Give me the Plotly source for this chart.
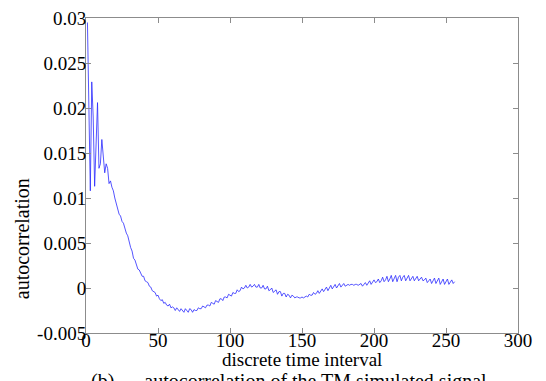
import plotly.graph_objects as go

# lag index (discrete time interval)
lags = list(range(1, 257))

# autocorrelation values, lag 1..256
autocorr = [
    0.0295, 0.0190, 0.0108, 0.0229, 0.0190, 0.0113, 0.0170, 0.0206, 0.0133, 0.0138,
    0.0165, 0.0142, 0.0128, 0.0138, 0.0133, 0.0116, 0.0119, 0.0112, 0.0108, 0.0100,
    0.0094, 0.0087, 0.0082, 0.0080, 0.0074, 0.0072, 0.0066, 0.0061, 0.0058, 0.0051,
    0.0045, 0.0041, 0.0033, 0.0031, 0.0027, 0.0021, 0.0020, 0.0016, 0.0013, 0.0013,
    0.0008, 0.0007, 0.0006, 0.0002, 0.0001, -0.0003, -0.0004, -0.0005, -0.0009, -0.0008,
    -0.0012, -0.0014, -0.0013, -0.0017, -0.0016, -0.0019, -0.0020, -0.0018, -0.0022, -0.0021,
    -0.0022, -0.0025, -0.0022, -0.0024, -0.0026, -0.0023, -0.0025, -0.0027, -0.0023, -0.0025,
    -0.0027, -0.0023, -0.0024, -0.0027, -0.0024, -0.0025, -0.0025, -0.0022, -0.0023, -0.0023,
    -0.0020, -0.0021, -0.0022, -0.0019, -0.0019, -0.0020, -0.0016, -0.0017, -0.0018, -0.0014,
    -0.0015, -0.0016, -0.0012, -0.0012, -0.0014, -0.0010, -0.0010, -0.0011, -0.0007, -0.0008,
    -0.0009, -0.0005, -0.0006, -0.0006, -0.0002, -0.0004, -0.0003, 0.0001, -0.0001, 0.0000,
    0.0003, 0.0000, 0.0001, 0.0004, 0.0001, 0.0002, 0.0004, 0.0001, 0.0001, 0.0004,
    0.0000, 0.0000, 0.0003, -0.0001, -0.0001, 0.0002, -0.0003, -0.0002, 0.0000, -0.0005,
    -0.0003, -0.0002, -0.0007, -0.0004, -0.0004, -0.0009, -0.0006, -0.0006, -0.0010, -0.0007,
    -0.0008, -0.0011, -0.0008, -0.0009, -0.0011, -0.0010, -0.0010, -0.0011, -0.0011, -0.0010,
    -0.0011, -0.0010, -0.0009, -0.0010, -0.0007, -0.0008, -0.0008, -0.0005, -0.0007, -0.0006,
    -0.0003, -0.0006, -0.0004, -0.0001, -0.0004, -0.0002, 0.0001, -0.0003, 0.0000, 0.0003,
    -0.0001, 0.0001, 0.0004, 0.0000, 0.0002, 0.0005, 0.0001, 0.0003, 0.0005, 0.0002,
    0.0003, 0.0004, 0.0003, 0.0004, 0.0004, 0.0003, 0.0004, 0.0004, 0.0003, 0.0004,
    0.0005, 0.0002, 0.0004, 0.0006, 0.0003, 0.0005, 0.0008, 0.0004, 0.0006, 0.0009,
    0.0006, 0.0007, 0.0010, 0.0006, 0.0008, 0.0012, 0.0007, 0.0009, 0.0013, 0.0007,
    0.0010, 0.0014, 0.0007, 0.0011, 0.0014, 0.0007, 0.0012, 0.0014, 0.0008, 0.0012,
    0.0014, 0.0008, 0.0011, 0.0014, 0.0008, 0.0011, 0.0013, 0.0008, 0.0011, 0.0013,
    0.0008, 0.0010, 0.0012, 0.0008, 0.0009, 0.0011, 0.0006, 0.0008, 0.0010, 0.0005,
    0.0008, 0.0011, 0.0005, 0.0009, 0.0011, 0.0004, 0.0008, 0.0010, 0.0004, 0.0008,
    0.0010, 0.0004, 0.0007, 0.0009, 0.0005, 0.0007,
]

x_ticks = [0, 50, 100, 150, 200, 250, 300]
y_ticks = [-0.005, 0, 0.005, 0.01, 0.015, 0.02, 0.025, 0.03]
y_tick_text = ["-0.005", "0", "0.005", "0.01", "0.015", "0.02", "0.025", "0.03"]

FONT = "Liberation Serif"

fig = go.Figure()
fig.add_trace(go.Scatter(
    x=lags, y=autocorr, mode="lines",
    line=dict(color="#2a2aff", width=0.8),
    showlegend=False, hoverinfo="skip",
))

axis_common = dict(
    showline=True, linecolor="#8c8c8c", linewidth=1, mirror="ticks",
    ticks="inside", ticklen=5, tickcolor="#8c8c8c", tickwidth=1,
    showgrid=False, zeroline=False, ticklabeloverflow="allow",
    tickfont=dict(family=FONT, size=19, color="black"),
)

fig.update_layout(
    width=546, height=381,
    margin=dict(l=86, r=28, t=8, b=48),
    paper_bgcolor="white", plot_bgcolor="white",
    font=dict(family=FONT, size=19, color="black"),
    xaxis=dict(range=[0, 300], tickvals=x_ticks, ticklabelstandoff=-10,
               **axis_common),
    yaxis=dict(range=[-0.0050001, 0.0300001], tickvals=y_ticks, ticktext=y_tick_text,
               ticklabelstandoff=-5, **axis_common),
)

# axis titles
fig.add_annotation(
    text="discrete time interval", xref="paper", yref="paper",
    x=0.5, y=-0.083, xanchor="center", yanchor="middle", showarrow=False,
    font=dict(family=FONT, size=19, color="black"),
)
fig.add_annotation(
    text="autocorrelation", xref="paper", yref="paper", textangle=-90,
    x=-0.148, y=0.298, xanchor="center", yanchor="middle", showarrow=False,
    font=dict(family=FONT, size=20, color="black"),
)

# caption below the figure (clipped by the image bottom in the reference)
fig.add_annotation(
    text="(b)      autocorrelation of the TM simulated signal",
    xref="paper", yref="paper", x=0.47, y=-0.112, xanchor="center", yanchor="top",
    showarrow=False, font=dict(family=FONT, size=20, color="black"),
)

fig.write_html("out.html")
